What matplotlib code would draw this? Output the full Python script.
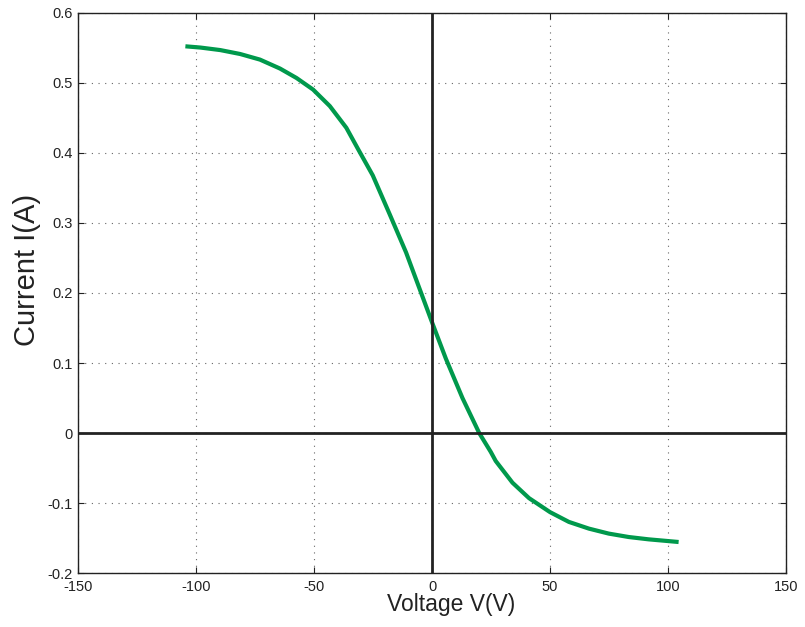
import numpy
import matplotlib
matplotlib.use('Agg')
import matplotlib.pyplot as plt

plt.rcParams['font.family'] = ['Liberation Sans', 'DejaVu Sans']

# I-V characteristic, read from the measured sweep
voltage = [-104.5, -98.1, -89.7, -81.3, -72.9, -64.4, -57.4, -50.4, -43.3, -36.3,
           -31.4, -25.1, -18.0, -11.0, -4.6, 0.25, 5.9, 12.9, 20.0, 24.9, 27.0,
           34.1, 41.1, 50.0, 58.0, 66.5, 74.9, 83.4, 91.8, 104.5]
current = [0.5524, 0.5506, 0.547, 0.5414, 0.5334, 0.5206, 0.5071, 0.4906, 0.4670,
           0.4360, 0.406, 0.368, 0.313, 0.258, 0.200, 0.156, 0.106, 0.050, 0.0,
           -0.027, -0.040, -0.071, -0.093, -0.113, -0.127, -0.1366, -0.1437,
           -0.1486, -0.1519, -0.1557]

xTicks = numpy.arange(-150, 151, 50)
yTicks = numpy.round(numpy.arange(-0.2, 0.61, 0.1), 1)
yTickLabels = ['-0.2', '-0.1', '0', '0.1', '0.2', '0.3', '0.4', '0.5', '0.6']

fig = plt.figure(figsize=(8.05, 6.27), dpi=100)
ax = fig.add_axes([0.0969, 0.0861, 0.8795, 0.8932])

ax.plot(voltage, current, color='#00994c', linewidth=3.0, zorder=2,
        solid_joinstyle='round', solid_capstyle='butt')

# axes through the origin
ax.axhline(0, color='#222222', linewidth=2.0, zorder=3)
ax.axvline(0, color='#222222', linewidth=2.0, zorder=3)

ax.set_xlim(-150, 150)
ax.set_ylim(-0.2, 0.6)
ax.set_xticks(xTicks)
ax.set_yticks(yTicks)
ax.set_xticklabels([str(t) for t in xTicks])
ax.set_yticklabels(yTickLabels)

ax.grid(True, linestyle=(0, (1, 5)), color='#666666', linewidth=0.8)
ax.set_axisbelow(True)
ax.tick_params(direction='in', length=4, width=0.8, top=True, right=True,
               labelsize=10.5, colors='#222222')
ax.tick_params(axis='x', pad=5)
ax.tick_params(axis='y', pad=4)
for s in ax.spines.values():
    s.set_linewidth(1.0)
    s.set_color('#222222')

ax.set_xlabel('Voltage V(V)', fontsize=16.5, color='#222222')
ax.set_ylabel('Current I(A)', fontsize=21, color='#222222')
ax.xaxis.set_label_coords(0.527, -0.035)
ax.yaxis.set_label_coords(-0.052, 0.541)

plt.savefig('out.png', dpi=100)
